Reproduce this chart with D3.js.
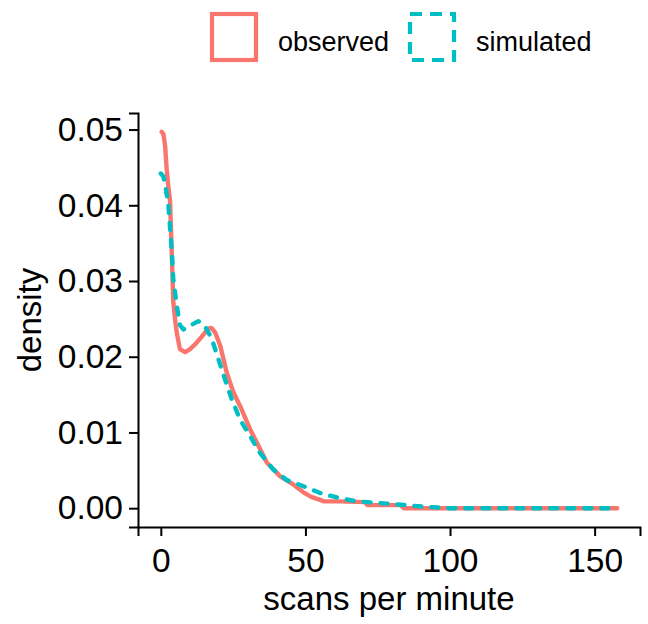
<!DOCTYPE html>
<html>
<head>
<meta charset="utf-8">
<script src="https://cdn.jsdelivr.net/npm/d3@7"></script>
<style>
  body { margin: 0; background: #fff; }
  svg text { font-family: "Liberation Sans", Arial, sans-serif; fill: #000; }
</style>
</head>
<body>
<div id="chart"></div>
<script>
// observed density curve
const obsX = [0.3, 0.9, 1.5, 2.0, 2.6, 3.2, 3.8, 4.3, 4.9, 5.5, 6.6, 8.4, 10.1, 12.0, 13.6, 16.4, 17.5, 18.8, 20.5, 22.8, 25.1, 27.4, 30.9, 33.8, 36.7, 41.3, 45.9, 49.3, 52.0, 55.1, 56.5, 62.0, 70.5, 71.5, 83.0, 84.0, 100, 130, 157.8]
const obsY = [0.0497, 0.0494, 0.0478, 0.0449, 0.0425, 0.0405, 0.0335, 0.0273, 0.0250, 0.0232, 0.0210, 0.0206, 0.0210, 0.0217, 0.0224, 0.0237, 0.0238, 0.0232, 0.0215, 0.0179, 0.0153, 0.0135, 0.0104, 0.0082, 0.0060, 0.0042, 0.0031, 0.0021, 0.0015, 0.0011, 0.0009, 0.0009, 0.0008, 0.0004, 0.0004, 0.0000, 0.0000, 0.0000, 0.0000]

// simulated density curve
const simX = [0.0, 0.9, 1.5, 2.6, 3.2, 3.8, 4.3, 5.5, 6.6, 7.8, 10.1, 13.0, 15.3, 17.6, 19.9, 22.2, 24.5, 27.4, 30.9, 34.3, 38.9, 43.6, 49.3, 55.1, 62.0, 67.8, 74.8, 85.0, 90.9, 100, 130, 157.8]
const simY = [0.0442, 0.0438, 0.0427, 0.0401, 0.0370, 0.0339, 0.0303, 0.0268, 0.0242, 0.0236, 0.0241, 0.0247, 0.0240, 0.0224, 0.0197, 0.0170, 0.0144, 0.0117, 0.0095, 0.0073, 0.0051, 0.0037, 0.0029, 0.0020, 0.0013, 0.0009, 0.0007, 0.0004, 0.0002, 0.0000, 0.0000, 0.0000]

const xTicks = [0, 50, 100, 150]
const yTicks = [0, 0.01, 0.02, 0.03, 0.04, 0.05]
const seriesNames = ['observed', 'simulated']
const colors = ['#F8766D', '#00BFC4']

const width = 648, height = 624
const margin = { left: 138, right: 8, top: 113, bottom: 97 }

const svg = d3.select('#chart')
	.append('svg')
	.attr('width', width)
	.attr('height', height)

const xMax = d3.max(obsX.concat(simX))
const yMax = d3.max(obsY.concat(simY))

let x = d3.scaleLinear()
	.domain([-xMax * 0.05, xMax * 1.05])
	.range([margin.left, width - margin.right])

let y = d3.scaleLinear()
	.domain([-yMax * 0.05, yMax * 1.05])
	.range([height - margin.bottom, margin.top])

const series = [
	obsX.map((v, i) => [v, obsY[i]]),
	simX.map((v, i) => [v, simY[i]])
]

let line = d3.line()
	.x(d => x(d[0]))
	.y(d => y(d[1]))

svg.append('g')
	.selectAll('path')
	.data(series)
	.enter()
	.append('path')
	.attr('d', line)
	.attr('fill', 'none')
	.attr('stroke', (d, i) => colors[i])
	.attr('stroke-width', 4.4)
	.attr('stroke-linejoin', 'round')
	.attr('stroke-linecap', 'round')
	.attr('stroke-dasharray', (d, i) => i == 1 ? '7 10' : null)

// axes
let xAxis = svg.append('g')
	.attr('transform', 'translate(0,' + (height - margin.bottom) + ')')
	.call(d3.axisBottom(x).tickValues(xTicks).tickSizeOuter(0).tickSize(9))

let yAxis = svg.append('g')
	.attr('transform', 'translate(' + margin.left + ',0)')
	.call(d3.axisLeft(y).tickValues(yTicks).tickFormat(d3.format('.2f')).tickSizeOuter(0).tickSize(9).tickPadding(6))

svg.selectAll('.domain, .tick line')
	.attr('stroke', '#000')
	.attr('stroke-width', 2)

svg.selectAll('.tick text')
	.attr('font-size', '33.5px')
	.style('font-family', '"Liberation Sans", Arial, sans-serif')
	.attr('fill', '#000')

// x tick labels sit on a baseline just above the axis title
xAxis.selectAll('.tick text')
	.attr('y', 45)
	.attr('dy', 0)

svg.append('text')
	.attr('x', (margin.left + width - margin.right) / 2)
	.attr('y', 610)
	.attr('text-anchor', 'middle')
	.attr('font-size', '33px')
	.text('scans per minute')

svg.append('text')
	.attr('transform', 'translate(41,' + ((margin.top + height - margin.bottom) / 2) + ') rotate(-90)')
	.attr('text-anchor', 'middle')
	.attr('font-size', '33px')
	.text('density')

// legend
const legendX = [212, 410]
let legend = svg.append('g')
	.selectAll('g')
	.data(seriesNames)
	.enter()
	.append('g')
	.attr('transform', (d, i) => 'translate(' + legendX[i] + ',14)')

legend.append('rect')
	.attr('x', 0)
	.attr('y', 0)
	.attr('width', 44)
	.attr('height', 46)
	.attr('fill', '#fff')
	.attr('stroke', (d, i) => colors[i])
	.attr('stroke-width', 4.2)
	.attr('stroke-dasharray', (d, i) => i == 1 ? '12 8' : null)

legend.append('text')
	.attr('x', 66)
	.attr('y', 37)
	.attr('font-size', '27px')
	.text(d => d)
</script>
</body>
</html>
